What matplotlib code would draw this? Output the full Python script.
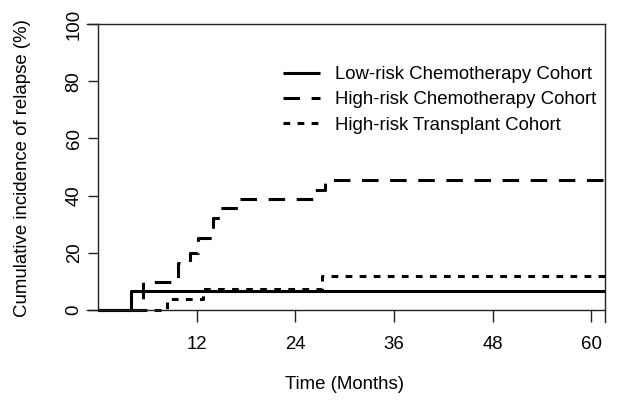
import matplotlib
matplotlib.use("Agg")
import matplotlib.pyplot as plt

# Cumulative incidence of relapse (%) by month
low_months = [0, 4.0, 62]
low_pct = [0, 6.5, 6.5]

hichemo_months = [0, 5.5, 9.7, 11.2, 12.2, 14.0, 14.8, 17.0, 26.2, 27.6, 62]
hichemo_pct = [0, 9.9, 16.5, 20.0, 25.3, 32.3, 35.8, 38.9, 42.1, 45.6, 45.6]

transplant_months = [0, 8.4, 12.8, 27.2, 62]
transplant_pct = [0, 3.8, 7.4, 11.9, 11.9]

labels = ["Low-risk Chemotherapy Cohort",
          "High-risk Chemotherapy Cohort",
          "High-risk Transplant Cohort"]
x_ticks = [12, 24, 36, 48, 60]
y_ticks = [0, 20, 40, 60, 80, 100]

plt.rcParams['font.family'] = ['Liberation Sans', 'DejaVu Sans']
FS = 13.4

fig = plt.figure(figsize=(6.17, 4.0), dpi=100)
ax = fig.add_axes([87 / 617, 78 / 400, 518 / 617, 298 / 400])

lw = 2.2
ax.step(low_months, low_pct, where='post', color='black', lw=lw,
        solid_capstyle='butt', label=labels[0])
ax.step(hichemo_months, hichemo_pct, where='post', color='black', lw=lw,
        dashes=(5.4, 3.8), label=labels[1])
ax.step(transplant_months, transplant_pct, where='post', color='black', lw=lw,
        dashes=(2.2, 2.4), label=labels[2])

ax.set_xlim(-1.34, 61.68)
ax.set_ylim(-4.2, 100)

# R-style axes: left/bottom through the origin, box open elsewhere
for side in ['left', 'bottom', 'top', 'right']:
    ax.spines[side].set_linewidth(1.0)
    ax.spines[side].set_color('#222222')
ax.spines['left'].set_position(('data', 0))
ax.spines['left'].set_bounds(0, 100)
ax.spines['bottom'].set_position(('data', 0))

ax.set_xticks(x_ticks)
ax.set_xticklabels([str(t) for t in x_ticks])
ax.set_yticks(y_ticks)
ax.set_yticklabels([str(t) for t in y_ticks], va='center')
ax.tick_params(axis='x', direction='out', length=8.5, width=1.0, pad=10,
               labelsize=FS, color='#222222')
ax.tick_params(axis='y', direction='out', length=7.5, width=1.0, pad=3.5,
               labelsize=FS, labelrotation=90, color='#222222')

ax.set_xlabel("Time (Months)", fontsize=FS)
ax.xaxis.set_label_coords(0.498, -0.18)
ax.set_ylabel("Cumulative incidence of relapse (%)", fontsize=FS)
ax.yaxis.set_label_coords(-0.108, 0.517)

ax.legend(loc='upper left', bbox_to_anchor=(283 / 617, 334 / 400),
          bbox_transform=fig.transFigure, frameon=False, fontsize=FS,
          handlelength=2.0, handletextpad=0.8, labelspacing=0.45,
          borderpad=0, borderaxespad=0)

fig.savefig("out.png", dpi=100)
